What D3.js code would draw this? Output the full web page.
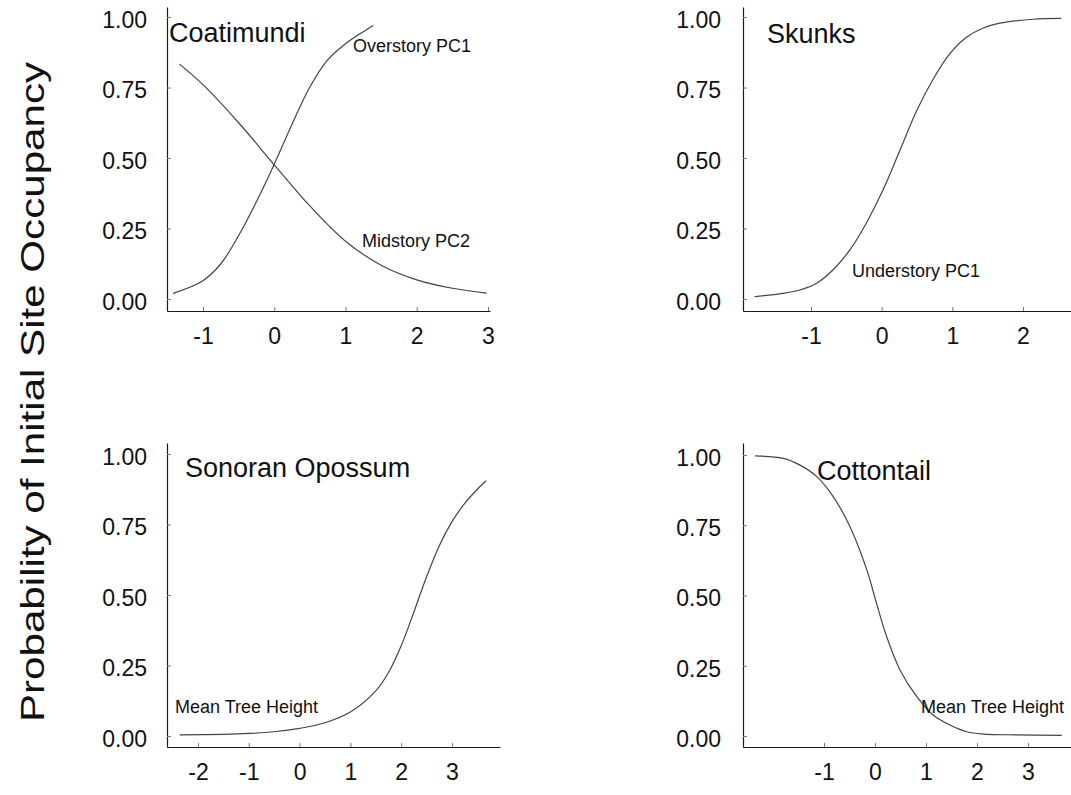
<!DOCTYPE html>
<html>
<head>
<meta charset="utf-8">
<script src="https://cdn.jsdelivr.net/npm/d3@7"></script>
<style>
  html, body { margin: 0; padding: 0; background: #fff; }
  svg { display: block; font-family: "Liberation Sans", Arial, Helvetica, sans-serif; }
</style>
</head>
<body>
<svg id="chart" width="1071" height="795"></svg>
<script>
// ---------------- data ----------------
const yTickValues = [0, 0.25, 0.5, 0.75, 1.0];
const coatiXTicks = [-1, 0, 1, 2, 3];
const skunkXTicks = [-1, 0, 1, 2];
const opossumXTicks = [-2, -1, 0, 1, 2, 3];
const cottontailXTicks = [-1, 0, 1, 2, 3];

// Coatimundi – Overstory PC1
const overstoryX = [-1.42, -1.0, -0.75, -0.5, -0.25, 0, 0.25, 0.5, 0.75, 1.0, 1.25, 1.39];
const overstoryP = [0.020, 0.065, 0.125, 0.225, 0.345, 0.478, 0.620, 0.752, 0.848, 0.905, 0.948, 0.970];
// Coatimundi – Midstory PC2
const midstoryX = [-1.33, -1.0, -0.5, 0, 0.5, 1.0, 1.5, 2.0, 2.5, 2.98];
const midstoryP = [0.833, 0.760, 0.625, 0.476, 0.330, 0.205, 0.120, 0.068, 0.038, 0.021];
// Skunks – Understory PC1
const understoryX = [-1.80, -1.4, -1.16, -0.92, -0.69, -0.45, -0.22, 0.02, 0.26, 0.49, 0.73, 0.96, 1.2, 1.43, 1.67, 2.14, 2.54];
const understoryP = [0.008, 0.020, 0.032, 0.056, 0.103, 0.174, 0.268, 0.387, 0.528, 0.665, 0.780, 0.868, 0.928, 0.960, 0.978, 0.992, 0.995];
// Sonoran Opossum – Mean Tree Height
const opossumX = [-2.36, -1.5, -1.0, -0.5, 0, 0.5, 1.0, 1.5, 1.75, 2.0, 2.25, 2.5, 2.75, 3.0, 3.25, 3.5, 3.67];
const opossumP = [0.004, 0.006, 0.009, 0.015, 0.027, 0.047, 0.085, 0.160, 0.225, 0.320, 0.440, 0.565, 0.675, 0.760, 0.825, 0.875, 0.905];
// Cottontail – Mean Tree Height
const cottontailX = [-2.35, -1.8, -1.47, -1.14, -0.82, -0.49, -0.16, 0.03, 0.23, 0.49, 0.82, 1.14, 1.47, 1.8, 2.12, 2.78, 3.66];
const cottontailP = [0.997, 0.988, 0.964, 0.923, 0.852, 0.745, 0.591, 0.472, 0.353, 0.235, 0.140, 0.075, 0.039, 0.015, 0.007, 0.004, 0.002];

const speciesNames = ["Coatimundi", "Skunks", "Sonoran Opossum", "Cottontail"];
const yTitle = "Probability of Initial Site Occupancy";

// ---------------- drawing ----------------
const svg = d3.select("#chart");
const FONT_TICK = 23, FONT_SPECIES = 27, FONT_CURVE = 18;
const AXIS_COLOR = "#1a1a1a", CURVE_COLOR = "#444", TEXT_COLOR = "#111";

function makeScale(t0, p0, t1, p1, lo, hi) {
  const s = d3.scaleLinear().domain([t0, t1]).range([p0, p1]);
  return d3.scaleLinear().domain([s.invert(lo), s.invert(hi)]).range([lo, hi]);
}

function panel(cfg) {
  const g = svg.append("g");
  const x = makeScale(cfg.xt[0], cfg.xt[1], cfg.xt[2], cfg.xt[3], cfg.xLeft, cfg.xRight);
  const y = makeScale(0, cfg.y0, 1, cfg.y1, cfg.yAxis, cfg.yTop);

  const xAxis = d3.axisBottom(x).tickValues(cfg.xTicks).tickFormat(d3.format("d"))
    .tickSizeInner(-4).tickSizeOuter(0).tickPadding(17);
  const yAxis = d3.axisLeft(y).tickValues(yTickValues).tickFormat(d3.format(".2f"))
    .tickSizeInner(-4).tickSizeOuter(0).tickPadding(cfg.yPad);

  const gx = g.append("g").attr("transform", `translate(0,${cfg.yAxis})`).call(xAxis);
  const gy = g.append("g").attr("transform", `translate(${cfg.xLeft},0)`).call(yAxis);
  [gx, gy].forEach(a => {
    a.select(".domain").attr("stroke", AXIS_COLOR).attr("stroke-width", 1.2);
    a.selectAll(".tick line").attr("stroke", "#777").attr("stroke-width", 1);
    a.selectAll(".tick text").attr("fill", TEXT_COLOR).attr("font-size", FONT_TICK)
      .attr("font-family", "Liberation Sans, Arial, sans-serif");
  });
  gx.selectAll(".tick text").text(d => d < 0 ? "-" + Math.abs(d) : d);
  gy.selectAll(".tick text").attr("dy", "0.45em");

  const line = d3.line().x(d => x(d[0])).y(d => y(d[1])).curve(d3.curveCatmullRom.alpha(0.5));
  cfg.curves.forEach(c => {
    const pts = c.xs.map((v, i) => [v, c.ps[i]]);
    g.append("path").datum(pts).attr("d", line)
      .attr("fill", "none").attr("stroke", CURVE_COLOR).attr("stroke-width", 1.2);
    g.append("text").attr("x", c.lx).attr("y", c.ly).text(c.label)
      .attr("font-size", FONT_CURVE).attr("fill", TEXT_COLOR);
  });
  g.append("text").attr("x", cfg.tx).attr("y", cfg.ty).text(cfg.title)
    .attr("font-size", FONT_SPECIES).attr("fill", TEXT_COLOR);
}

panel({
  xt: [-1, 203, 3, 488], xLeft: 167, xRight: 490,
  y0: 299, y1: 17, yAxis: 311, yTop: 7, yPad: 20,
  xTicks: coatiXTicks, title: speciesNames[0], tx: 169, ty: 42,
  curves: [
    { xs: overstoryX, ps: overstoryP, label: "Overstory PC1", lx: 353, ly: 52 },
    { xs: midstoryX, ps: midstoryP, label: "Midstory PC2", lx: 362, ly: 247 }
  ]
});
panel({
  xt: [-1, 811, 2, 1023], xLeft: 743, xRight: 1071,
  y0: 299, y1: 17, yAxis: 311, yTop: 7, yPad: 22,
  xTicks: skunkXTicks, title: speciesNames[1], tx: 767, ty: 43,
  curves: [
    { xs: understoryX, ps: understoryP, label: "Understory PC1", lx: 852, ly: 277 }
  ]
});
panel({
  xt: [-2, 198, 3, 452], xLeft: 167, xRight: 500,
  y0: 736, y1: 454, yAxis: 747, yTop: 443, yPad: 20,
  xTicks: opossumXTicks, title: speciesNames[2], tx: 185, ty: 477,
  curves: [
    { xs: opossumX, ps: opossumP, label: "Mean Tree Height", lx: 175, ly: 713 }
  ]
});
panel({
  xt: [-1, 824, 3, 1028], xLeft: 743, xRight: 1071,
  y0: 736, y1: 455, yAxis: 747, yTop: 443, yPad: 22,
  xTicks: cottontailXTicks, title: speciesNames[3], tx: 817, ty: 480,
  curves: [
    { xs: cottontailX, ps: cottontailP, label: "Mean Tree Height", lx: 921, ly: 713 }
  ]
});

svg.append("text")
  .attr("transform", "translate(44,392) rotate(-90)")
  .attr("text-anchor", "middle")
  .attr("font-size", 33).attr("fill", TEXT_COLOR)
  .attr("textLength", 660).attr("lengthAdjust", "spacingAndGlyphs")
  .text(yTitle);
</script>
</body>
</html>
